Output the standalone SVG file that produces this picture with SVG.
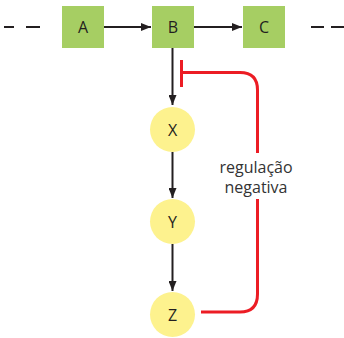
<svg xmlns="http://www.w3.org/2000/svg" width="344" height="338" viewBox="0 0 344 338">
<defs>
<marker id="arr" viewBox="0 0 10 8" refX="10" refY="4" markerWidth="10" markerHeight="8" markerUnits="userSpaceOnUse" orient="auto">
<path d="M0,0 L10,4 L0,8 Z" fill="#231f20"/>
</marker>
</defs>
<style>
.box{fill:#a6ce63}
.circ{fill:#fdf28e}
.lbl{font-family:"Open Sans","Liberation Sans",sans-serif;font-size:16px;fill:#231f20;text-anchor:middle}
.ln{stroke:#231f20;stroke-width:2;fill:none}
.red{stroke:#ec1c24;stroke-width:3;fill:none}
.note{font-family:"Open Sans","Liberation Sans",sans-serif;font-size:16px;fill:#333;text-anchor:middle}
</style>
<rect width="344" height="338" fill="#fff"/>
<g id="connectors">
<line class="ln" x1="4" y1="27" x2="14" y2="27"/>
<line class="ln" x1="26" y1="27" x2="40" y2="27"/>
<line class="ln" x1="311" y1="27" x2="324" y2="27"/>
<line class="ln" x1="331" y1="27" x2="344" y2="27"/>
<line class="ln" x1="104" y1="27" x2="151" y2="27" marker-end="url(#arr)"/>
<line class="ln" x1="194" y1="27" x2="242" y2="27" marker-end="url(#arr)"/>
<line class="ln" x1="172.5" y1="48" x2="172.5" y2="105" marker-end="url(#arr)"/>
<line class="ln" x1="172.5" y1="152" x2="172.5" y2="198" marker-end="url(#arr)"/>
<line class="ln" x1="172.5" y1="244" x2="172.5" y2="291" marker-end="url(#arr)"/>
<path class="red" d="M201,312 H240 Q257.5,312 257.5,294 V199"/>
<path class="red" d="M257.5,153 V90 Q257.5,72.5 240,72.5 H181.5"/>
<line class="red" x1="181.5" y1="60" x2="181.5" y2="87"/>
</g>
<g id="A"><rect class="box" x="62" y="6" width="42" height="42"/><text class="lbl" x="83" y="33">A</text></g>
<g id="B"><rect class="box" x="152" y="6" width="42" height="42"/><text class="lbl" x="173" y="33">B</text></g>
<g id="C"><rect class="box" x="243" y="6" width="42" height="42"/><text class="lbl" x="264" y="33">C</text></g>
<g id="X"><circle class="circ" cx="172.5" cy="129.5" r="22.5"/><text class="lbl" x="172.5" y="135.5">X</text></g>
<g id="Y"><circle class="circ" cx="172.5" cy="221.5" r="22.5"/><text class="lbl" x="172.5" y="227.5">Y</text></g>
<g id="Z"><circle class="circ" cx="172.5" cy="314.5" r="22.5"/><text class="lbl" x="172.5" y="320.5">Z</text></g>
<g id="label"><text class="note" x="256" y="173">regulação</text><text class="note" x="256" y="193">negativa</text></g>
</svg>
